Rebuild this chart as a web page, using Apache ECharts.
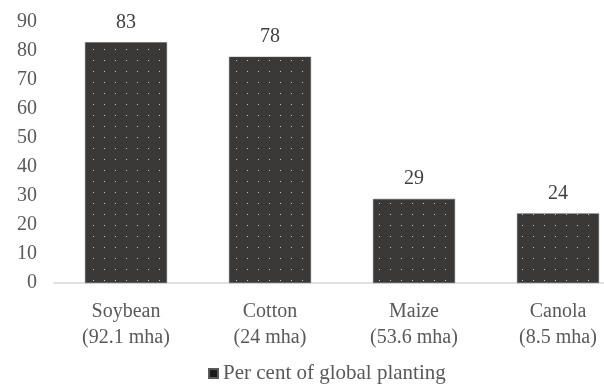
<!DOCTYPE html>
<html>
<head>
<meta charset="utf-8">
<script src="https://cdn.jsdelivr.net/npm/echarts@6/dist/echarts.min.js"></script>
<style>
  html, body { margin: 0; padding: 0; background: #fff; }
  #chart { width: 604px; height: 389px; }
</style>
</head>
<body>
<div id="chart"></div>
<script>
const categories = ['Soybean\n(92.1 mha)', 'Cotton\n(24 mha)', 'Maize\n(53.6 mha)', 'Canola\n(8.5 mha)'];
const percentGlobal = [83, 78, 29, 24];
const seriesName = 'Per cent of global planting';

// dotted fill: dark tile with a single light dot
function dotPattern() {
  const c = document.createElement('canvas');
  c.width = 11; c.height = 11;
  const g = c.getContext('2d');
  g.fillStyle = '#3b3938';
  g.fillRect(0, 0, 11, 11);
  g.fillStyle = '#c8c8c8';
  g.fillRect(5, 5, 1, 1);
  return c;
}

const chart = echarts.init(document.getElementById('chart'), null, { renderer: 'canvas' });
const font = '"Liberation Serif", "Times New Roman", serif';

chart.setOption({
  animation: false,
  grid: {
    left: 54, width: 576, top: 22, bottom: 106,
    containLabel: false, outerBoundsMode: 'none'
  },
  legend: {
    bottom: 0,
    left: 203,
    itemWidth: 9,
    itemHeight: 9,
    itemGap: 7,
    icon: 'rect',
    textStyle: { fontFamily: font, fontSize: 21, color: '#595959' },
    data: [{ name: seriesName, itemStyle: { color: '#1a1a1a' } }]
  },
  xAxis: {
    type: 'category',
    data: categories,
    axisLine: { lineStyle: { color: '#d9d9d9', width: 1.5 } },
    axisTick: { show: false },
    axisLabel: {
      fontFamily: font, fontSize: 20, color: '#595959',
      lineHeight: 26, margin: 16, interval: 0
    }
  },
  yAxis: {
    type: 'value',
    min: 0, max: 90, interval: 10,
    axisLine: { show: false },
    axisTick: { show: false },
    splitLine: { show: false },
    axisLabel: { fontFamily: font, fontSize: 20, color: '#595959', margin: 17 }
  },
  series: [{
    name: seriesName,
    type: 'bar',
    data: percentGlobal,
    barWidth: 82,
    itemStyle: {
      color: { image: dotPattern(), repeat: 'repeat' },
      borderColor: '#595959',
      borderWidth: 0.5
    },
    label: {
      show: true, position: 'top', distance: 10,
      fontFamily: font, fontSize: 20, color: '#404040'
    }
  }]
});
</script>
</body>
</html>
